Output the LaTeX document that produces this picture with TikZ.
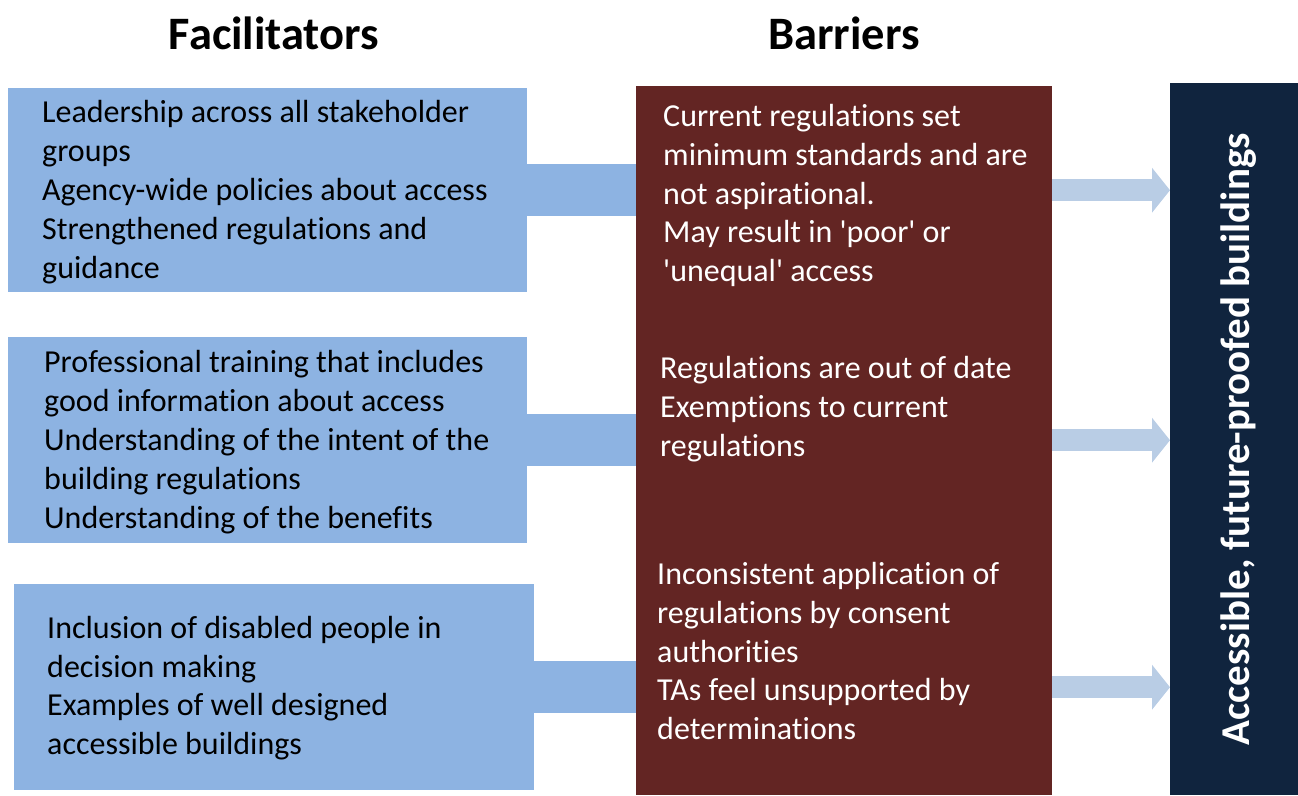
\documentclass[tikz,border=0pt]{standalone}
\usepackage{fontspec}
\setmainfont{Carlito}[Ligatures=NoCommon]
\usetikzlibrary{arrows.meta,calc}
\definecolor{facblue}{HTML}{8DB3E2}
\definecolor{barred}{HTML}{632523}
\definecolor{goalnavy}{HTML}{10243E}
\definecolor{flowblue}{HTML}{B9CDE5}
\def\q{\textquotesingle}
\tikzset{
	heading/.style={font=\fontsize{46.5}{54}\selectfont\bfseries, anchor=base},
	facbox/.style={fill=facblue, anchor=north west, minimum width=519pt, inner sep=0pt},
	factext/.style={anchor=west, inner sep=0pt, align=left, font=\fontsize{32}{38.8}\selectfont},
	barrtext/.style={text=white, anchor=north west, inner sep=0pt, align=left, font=\fontsize{32}{38.8}\selectfont, execute at begin node=\strut},
	link/.style={draw=facblue, line width=52pt},
	flow/.style={draw=flowblue, line width=22pt, -{Triangle[length=18pt,width=44pt]}, color=flowblue}
}

\begin{document}
\begin{tikzpicture}[x=1pt, y=-1pt]
			%%%%% START %%%%%
			\useasboundingbox (0, 0) rectangle (1298, 795);
			
			\node[heading] (factitle) at (274, 49) {Facilitators};
			\node[heading] (barrtitle) at (844, 49) {Barriers};
			
			\node[fill=barred, anchor=north west, minimum width=416pt, minimum height=709pt, inner sep=0pt] (barr) at (636, 86) {};
			\node[fill=goalnavy, anchor=north west, minimum width=128pt, minimum height=712pt, inner sep=0pt] (goal) at (1170, 83) {};
			
			\node[facbox, minimum height=204pt] (fac1) at (8, 88) {};
			\node[facbox, minimum height=206pt] (fac2) at (8, 337) {};
			\node[facbox, minimum height=206pt, minimum width=520pt] (fac3) at (14, 584) {};
			
			\node[factext] (factext1) at ($(fac1.west)+(34, 2)$) {Leadership across all stakeholder\\groups\\Agency-wide policies about access\\Strengthened regulations and\\guidance};
			\node[factext] (factext2) at ($(fac2.west)+(36, 2)$) {Professional training that includes\\good information about access\\Understanding of the intent of the\\building regulations\\Understanding of the benefits};
			\node[factext] (factext3) at ($(fac3.west)+(33, 1)$) {Inclusion of disabled people in\\decision making\\Examples of well designed\\accessible buildings};
			
			\node[barrtext] (barr1) at (663, 104) {Current regulations set\\minimum standards and are\\not aspirational.\\May result in \q poor\q{} or\\\q unequal\q{} access};
			\node[barrtext] (barr2) at (660, 356) {Regulations are out of date\\Exemptions to current\\regulations};
			\node[barrtext] (barr3) at (657, 562) {Inconsistent application of\\regulations by consent\\authorities\\TAs feel unsupported by\\determinations};
			
			\node[rotate=90, text=white, font=\fontsize{41}{49}\selectfont\bfseries] (goaltext) at ($(goal.center)+(4, 0)$) {Accessible, future-proofed buildings};
			
			% links into the barriers and on to the goal
			\draw[link] (fac1.east) -- (fac1.east -| barr.west);
			\draw[link] (fac2.east) -- (fac2.east -| barr.west);
			\draw[link] (fac3.east) -- (fac3.east -| barr.west);
			
			\draw[flow] (fac1.east -| barr.east) -- (fac1.east -| goal.west);
			\draw[flow] (fac2.east -| barr.east) -- (fac2.east -| goal.west);
			\draw[flow] (fac3.east -| barr.east) -- (fac3.east -| goal.west);
			
			%%%%% END %%%%%
		\end{tikzpicture}
\end{document}
